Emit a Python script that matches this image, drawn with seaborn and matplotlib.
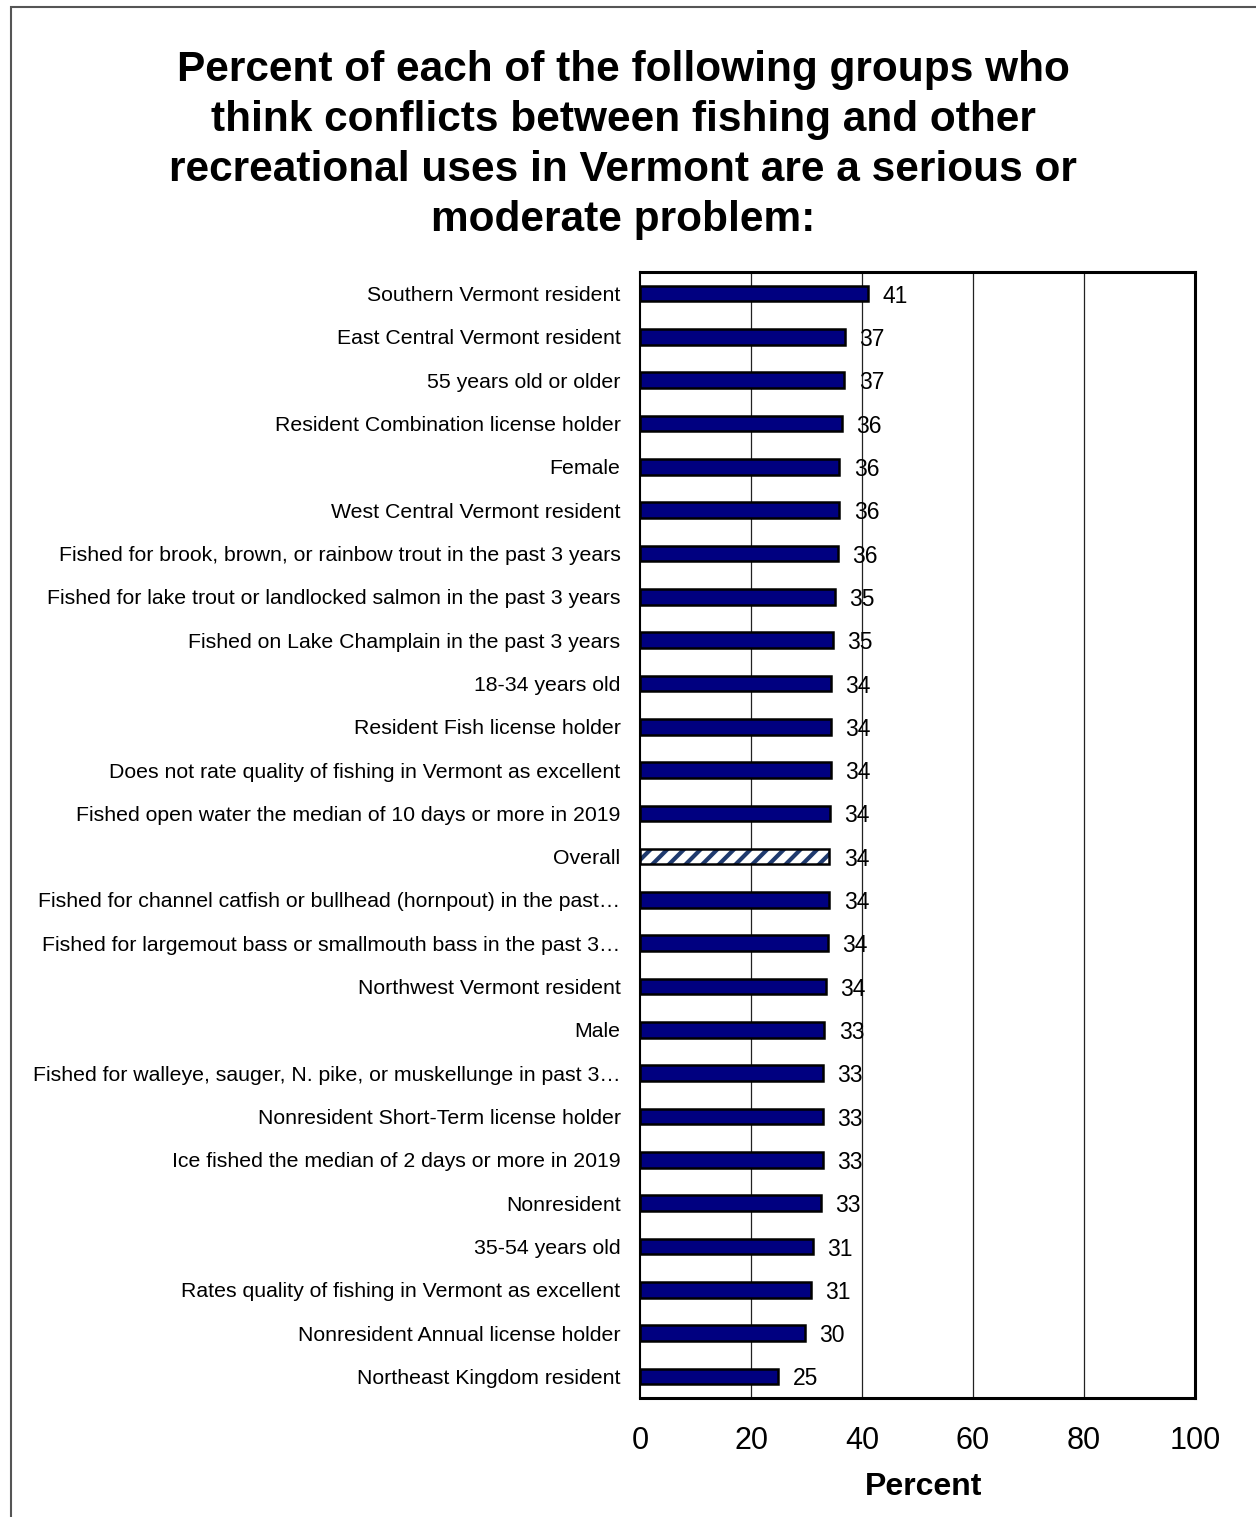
import matplotlib
matplotlib.use("Agg")
import matplotlib.pyplot as plt
import matplotlib.patches as mpatches
from matplotlib.ticker import FixedLocator
import seaborn as sns
import pandas as pd
import numpy as np

categories = [
    "Southern Vermont resident",
    "East Central Vermont resident",
    "55 years old or older",
    "Resident Combination license holder",
    "Female",
    "West Central Vermont resident",
    "Fished for brook, brown, or rainbow trout in the past 3 years",
    "Fished for lake trout or landlocked salmon in the past 3 years",
    "Fished on Lake Champlain in the past 3 years",
    "18-34 years old",
    "Resident Fish license holder",
    "Does not rate quality of fishing in Vermont as excellent",
    "Fished open water the median of 10 days or more in 2019",
    "Overall",
    "Fished for channel catfish or bullhead (hornpout) in the past\u2026",
    "Fished for largemout bass or smallmouth bass in the past 3\u2026",
    "Northwest Vermont resident",
    "Male",
    "Fished for walleye, sauger, N. pike, or muskellunge in past 3\u2026",
    "Nonresident Short-Term license holder",
    "Ice fished the median of 2 days or more in 2019",
    "Nonresident",
    "35-54 years old",
    "Rates quality of fishing in Vermont as excellent",
    "Nonresident Annual license holder",
    "Northeast Kingdom resident",
]
percent = [41.1, 36.9, 36.8, 36.4, 35.9, 35.9, 35.7, 35.1, 34.8, 34.4, 34.4,
           34.4, 34.2, 34.1, 34.1, 33.9, 33.5, 33.2, 33.0, 33.0, 33.0, 32.6,
           31.2, 30.8, 29.7, 24.9]
highlight = "Overall"
x_ticks = [0, 20, 40, 60, 80, 100]

NAVY = "#000080"
STRIPE = "#1f3a6e"

sns.set_style("white")
plt.rcParams["font.family"] = ["Liberation Sans", "DejaVu Sans"]
for key in ["text.color", "axes.labelcolor", "xtick.color", "ytick.color",
            "xtick.labelcolor", "ytick.labelcolor"]:
    plt.rcParams[key] = "black"
plt.rcParams["hatch.color"] = STRIPE
plt.rcParams["hatch.linewidth"] = 3.0

df = pd.DataFrame({"group": categories, "pct": percent})

fig = plt.figure(figsize=(12.56, 15.17), dpi=100)
W, H = 1256, 1517
ax = fig.add_axes([640 / W, 1 - 1398 / H, (1195 - 640) / W, (1398 - 272) / H])

sns.barplot(data=df, x="pct", y="group", orient="h", color=NAVY,
            saturation=1, edgecolor="black", linewidth=1.8, width=0.36, ax=ax)

# hatched style for the overall bar
idx = categories.index(highlight)
bar = ax.patches[idx]
bar.set_facecolor("white")
bar.set_edgecolor(STRIPE)
bar.set_hatch("//")
bar.set_linewidth(0)
ax.barh([idx], [percent[idx]], height=0.36, fill=False,
        edgecolor="black", linewidth=1.8, zorder=3)

# value labels
for i, v in enumerate(percent):
    ax.text(v + 2.6, i + 0.06, f"{v:.0f}", va="center", ha="left",
            fontsize=16.5, color="black", zorder=4)

ax.set_xlim(0, 100)
ax.set_ylim(len(categories) - 0.5, -0.5)
ax.set_xticks(x_ticks)
ax.set_xticklabels([str(t) for t in x_ticks], fontsize=22)
ax.tick_params(axis="x", direction="out", length=7, width=1, color="black", pad=13)
ax.tick_params(axis="y", which="major", length=0, pad=14, labelsize=15.3)
ax.yaxis.set_minor_locator(FixedLocator(np.arange(-0.5, len(categories), 1.0)))
ax.tick_params(axis="y", which="minor", direction="out", length=5, width=1, color="black")
ax.set_ylabel("")
ax.set_xlabel("Percent", fontsize=23, fontweight="bold", labelpad=12)
ax.xaxis.label.set_x(0.511)

for x in x_ticks[1:-1]:
    ax.axvline(x, color="#222222", linewidth=0.9, zorder=0)

for side in ["top", "right", "bottom"]:
    ax.spines[side].set_visible(True)
    ax.spines[side].set_color("black")
    ax.spines[side].set_linewidth(2.2)
ax.spines["left"].set_visible(True)
ax.spines["left"].set_color("black")
ax.spines["left"].set_linewidth(1.5)

fig.text(623 / W, 1 - 50 / H,
         "Percent of each of the following groups who\n"
         "think conflicts between fishing and other\n"
         "recreational uses in Vermont are a serious or\n"
         "moderate problem:",
         ha="center", va="top", fontsize=30.5, fontweight="bold",
         linespacing=1.32)

# outer frame of the figure
fig.patches.append(mpatches.Rectangle((11 / W, -0.1), 1.2, 1 - 7 / H + 0.1,
                                      transform=fig.transFigure, fill=False,
                                      edgecolor="#555555", linewidth=1.5))

fig.savefig("out.png", dpi=100)
